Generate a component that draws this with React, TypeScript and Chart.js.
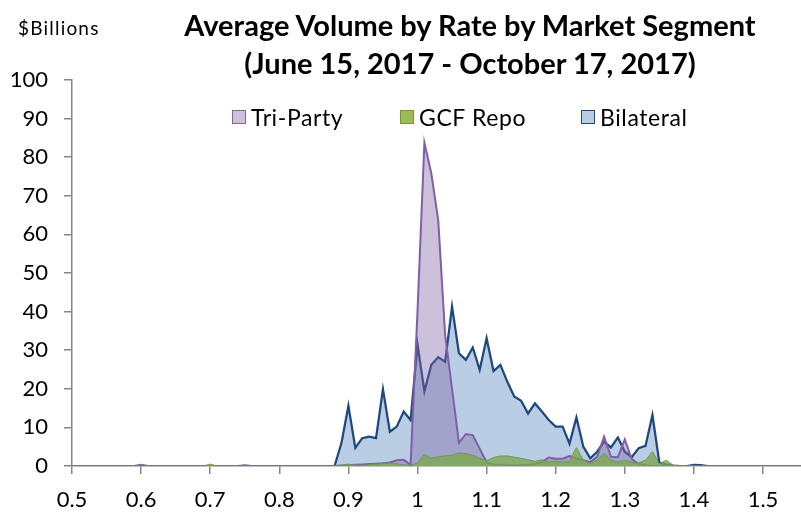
import React, { useEffect, useRef } from "react";
import { Chart, registerables } from "chart.js";

Chart.register(...registerables);

// Repo rate (percent) at which volume was observed
const rates = [
  0.5, 0.59, 0.6, 0.61, 0.69, 0.7, 0.71, 0.74, 0.75, 0.76,
  0.87, 0.88, 0.89, 0.9, 0.91, 0.92, 0.93, 0.94, 0.95, 0.96, 0.97, 0.98, 0.99,
  1.0, 1.01, 1.02, 1.03, 1.04, 1.05, 1.06, 1.07, 1.08, 1.09,
  1.1, 1.11, 1.12, 1.13, 1.14, 1.15, 1.16, 1.17, 1.18, 1.19,
  1.2, 1.21, 1.22, 1.23, 1.24, 1.25, 1.26, 1.27, 1.28, 1.29,
  1.3, 1.31, 1.32, 1.33, 1.34, 1.35, 1.36, 1.37, 1.38, 1.39,
  1.4, 1.41, 1.42, 1.43,
  1.56,
];

// $Billions
const triParty = [
  0, 0, 0.3, 0, 0, 0, 0, 0, 0.2, 0,
  0, 0, 0.1, 0.2, 0.3, 0.4, 0.5, 0.6, 0.7, 0.9, 1.5, 1.6, 0.3,
  40, 83.8, 75.8, 63.7, 34, 20, 6, 8.3, 8.0, 4.5,
  1.0, 0.4, 0.3, 0.2, 0.2, 0.2, 0.3, 0.5, 1.0, 2.2,
  1.9, 1.9, 2.6, 2.0, 1.5, 1.0, 2.4, 7.6, 2.4, 2.3,
  6.9, 1.8, 0.5, 0.2, 0, 0, 0, 0, 0, 0,
  0, 0, 0, 0,
  0,
];

const gcfRepo = [
  0, 0, 0, 0, 0, 0.5, 0, 0, 0, 0,
  0, 0, 0.2, 0.5, 0.2, 0.2, 0.3, 0.5, 0.7, 0.8, 0.6, 0.3, 0.2,
  0.8, 3.0, 2.0, 2.4, 2.6, 2.8, 3.4, 3.2, 2.8, 2.0,
  1.4, 2.2, 2.6, 2.6, 2.3, 2.0, 1.6, 1.2, 1.6, 1.0,
  1.2, 1.0, 1.2, 4.8, 1.5, 0.7, 1.5, 3.3, 1.5, 1.0,
  1.5, 1.0, 0.8, 1.5, 3.7, 0.6, 1.5, 0.2, 0, 0,
  0, 0, 0, 0,
  0,
];

const bilateral = [
  0, 0, 0, 0, 0, 0, 0, 0, 0, 0,
  0, 0, 6, 15.6, 4.7, 7.2, 7.6, 7.2, 19.9, 8.9, 10.2, 14.1, 11.9,
  31.5, 19.4, 26.2, 28.2, 27, 41.3, 29.2, 27.5, 30.7, 24.9,
  33.1, 24.6, 26.2, 21.8, 18.0, 16.9, 13.6, 16.2, 14.1, 11.9,
  10.2, 10.2, 5.8, 12.6, 5.0, 2.0, 3.7, 6.3, 4.8, 7.4,
  3.7, 2.3, 4.6, 5.2, 13.2, 0.9, 0.4, 0.1, 0, 0,
  0.3, 0.2, 0, 0,
  0,
];

const xTickValues = [0.5, 0.6, 0.7, 0.8, 0.9, 1.0, 1.1, 1.2, 1.3, 1.4, 1.5];

const titleLines = [
  "Average Volume by Rate by Market Segment",
  "(June 15, 2017 - October 17, 2017)",
];
const unitLabel = "$Billions";
const legendItems = [
  { label: "Tri-Party", fill: "#CCC1DA", border: "#8064A2" },
  { label: "GCF Repo", fill: "#9BBB59", border: "#77933C" },
  { label: "Bilateral", fill: "#B9CDE5", border: "#1F497D" },
];
const legendLeft = [232, 400, 581];

const FONT = "Lato, 'Open Sans', sans-serif";
const AXIS = "#868686";

export default function App() {
  const ref = useRef<HTMLCanvasElement>(null);

  useEffect(() => {
    const pts = (arr: number[]) => rates.map((r, i) => ({ x: r, y: arr[i] }));
    const chart = new Chart(ref.current as HTMLCanvasElement, {
      type: "line",
      data: {
        datasets: [
          {
            label: "GCF Repo",
            data: pts(gcfRepo),
            order: 1,
            fill: "origin",
            backgroundColor: "rgba(122,166,78,0.78)",
            borderColor: "rgba(110,150,66,0.9)",
            borderWidth: 1,
            pointRadius: 0,
            tension: 0,
          },
          {
            label: "Tri-Party",
            data: pts(triParty),
            order: 2,
            fill: "origin",
            backgroundColor: "rgba(128,100,162,0.4)",
            borderColor: "#7F5FA6",
            borderWidth: 2,
            pointRadius: 0,
            tension: 0,
          },
          {
            label: "Bilateral",
            data: pts(bilateral),
            order: 3,
            fill: "origin",
            backgroundColor: "#B9CDE5",
            borderColor: "#1F497D",
            borderWidth: 2.25,
            pointRadius: 0,
            tension: 0,
          },
        ],
      },
      options: {
        responsive: false,
        animation: false,
        events: [],
        layout: { padding: { top: 80, left: 0, right: 0, bottom: 0 } },
        plugins: {
          legend: { display: false },
          title: { display: false },
          tooltip: { enabled: false },
        },
        scales: {
          x: {
            type: "linear",
            min: 0.5,
            max: 1.555,
            afterBuildTicks: (scale: any) => {
              scale.ticks = xTickValues.map((v) => ({ value: v }));
            },
            afterFit: (scale: any) => {
              scale.height = 47;
            },
            grid: {
              drawOnChartArea: false,
              drawTicks: true,
              tickLength: 8,
              color: AXIS,
              lineWidth: 1.5,
            },
            border: { color: AXIS, width: 1.5 },
            ticks: {
              autoSkip: false,
              maxRotation: 0,
              padding: 13,
              color: "#000",
              font: { family: FONT, size: 22 },
              callback: (v: any) => String(Number(Number(v).toFixed(2))),
            },
          },
          y: {
            min: 0,
            max: 100,
            afterFit: (scale: any) => {
              scale.width = 72;
            },
            grid: {
              drawOnChartArea: false,
              drawTicks: true,
              tickLength: 8,
              color: AXIS,
              lineWidth: 1.5,
            },
            border: { color: AXIS, width: 1.5 },
            ticks: {
              stepSize: 10,
              padding: 16,
              color: "#000",
              font: { family: FONT, size: 22 },
            },
          },
        },
      },
    });
    return () => chart.destroy();
  }, []);

  return (
    <div
      style={{
        position: "fixed",
        left: 0,
        top: 0,
        width: 801,
        height: 513,
        background: "#fff",
        overflow: "hidden",
        fontFamily: FONT,
        color: "#000",
      }}
    >
      <canvas
        ref={ref}
        width={801}
        height={513}
        style={{ position: "absolute", left: 0, top: 0, width: 801, height: 513 }}
      />
      <div
        style={{
          position: "absolute",
          left: 18,
          top: 17,
          fontSize: 19,
          letterSpacing: 1.2,
          lineHeight: "22px",
          whiteSpace: "nowrap",
        }}
      >
        {unitLabel}
      </div>
      {titleLines.map((t, i) => (
        <div
          key={i}
          style={{
            position: "absolute",
            left: 120,
            width: 700,
            top: 7 + i * 38,
            textAlign: "center",
            fontWeight: 700,
            fontSize: 29,
            lineHeight: "36px",
            whiteSpace: "nowrap",
          }}
        >
          {t}
        </div>
      ))}
      {legendItems.map((it, i) => (
        <div
          key={i}
          style={{
            position: "absolute",
            left: legendLeft[i],
            top: 102,
            height: 30,
            display: "flex",
            alignItems: "center",
            fontSize: 23,
            letterSpacing: 0.6,
            whiteSpace: "nowrap",
          }}
        >
          <span
            style={{
              display: "inline-block",
              boxSizing: "border-box",
              width: 14,
              height: 14,
              background: it.fill,
              border: `1.5px solid ${it.border}`,
              marginRight: 5,
            }}
          />
          <span>{it.label}</span>
        </div>
      ))}
    </div>
  );
}
